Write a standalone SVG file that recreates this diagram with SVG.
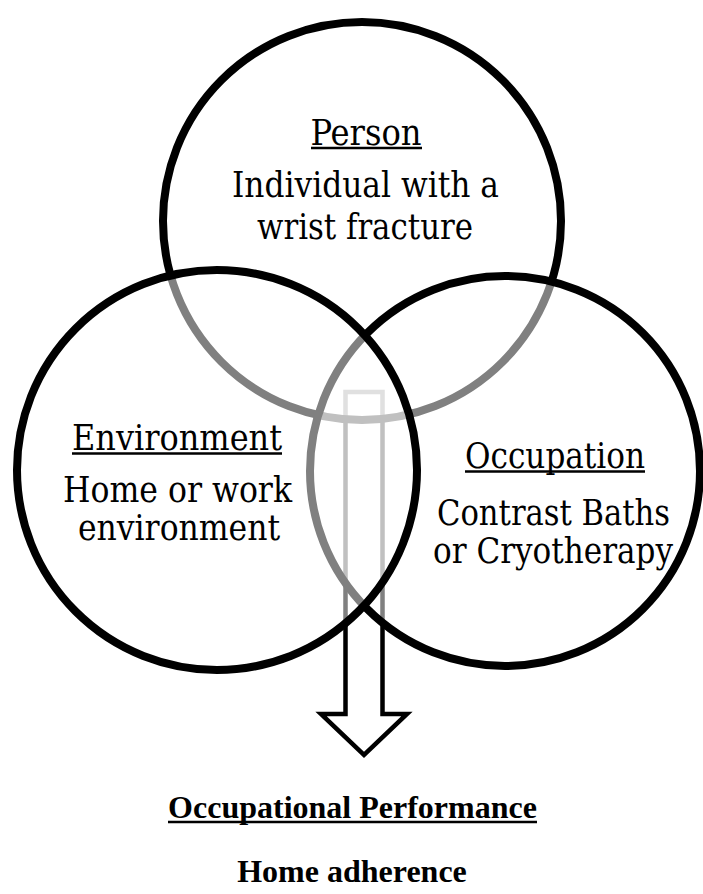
<svg xmlns="http://www.w3.org/2000/svg" width="703" height="894" viewBox="0 0 703 894">
<style>
.circ{fill:#fff;fill-opacity:0.5;stroke:#000;stroke-width:8}
.lbl{font-family:"DejaVu Serif Condensed","DejaVu Serif","Liberation Serif",serif;font-size:35px;fill:#000;text-anchor:middle}
.ul{stroke:#000;stroke-width:2.5}
.out{font-family:"Liberation Serif","Times New Roman",serif;font-size:32px;font-weight:bold;fill:#000;text-anchor:middle}
</style>
<rect width="703" height="894" fill="#fff"/>
<g id="connectors">
<path id="arrow" d="M345.5,392 H382.5 V714 H407 L364,755 L321,714 H345.5 Z" fill="#fff" stroke="#000" stroke-width="4.5" stroke-linejoin="miter"/>
</g>
<g id="person">
<circle class="circ" cx="362" cy="221" r="199"/>
<text class="lbl" x="366" y="145" textLength="111" lengthAdjust="spacingAndGlyphs">Person</text>
<line class="ul" x1="311" y1="148" x2="422" y2="148"/>
<text class="lbl" x="365.5" y="197" textLength="267" lengthAdjust="spacingAndGlyphs">Individual with a</text>
<text class="lbl" x="365" y="239" textLength="216" lengthAdjust="spacingAndGlyphs">wrist fracture</text>
</g>
<g id="occupation">
<circle class="circ" cx="505" cy="471" r="195"/>
<text class="lbl" x="555" y="468" textLength="180" lengthAdjust="spacingAndGlyphs">Occupation</text>
<line class="ul" x1="465" y1="471.5" x2="645" y2="471.5"/>
<text class="lbl" x="553.5" y="525" textLength="233" lengthAdjust="spacingAndGlyphs">Contrast Baths</text>
<text class="lbl" x="553" y="563" textLength="240" lengthAdjust="spacingAndGlyphs">or Cryotherapy</text>
</g>
<g id="environment">
<circle class="circ" cx="217" cy="470" r="200"/>
<text class="lbl" x="177" y="450" textLength="210" lengthAdjust="spacingAndGlyphs">Environment</text>
<line class="ul" x1="72" y1="453.5" x2="282" y2="453.5"/>
<text class="lbl" x="177.5" y="502" textLength="229" lengthAdjust="spacingAndGlyphs">Home or work</text>
<text class="lbl" x="179" y="540" textLength="202" lengthAdjust="spacingAndGlyphs">environment</text>
</g>
<g id="result">
<text class="out" x="352.5" y="818">Occupational Performance</text>
<line class="ul" x1="168" y1="822" x2="537" y2="822" stroke-width="2"/>
<text class="out" x="352" y="882">Home adherence</text>
</g>
</svg>
